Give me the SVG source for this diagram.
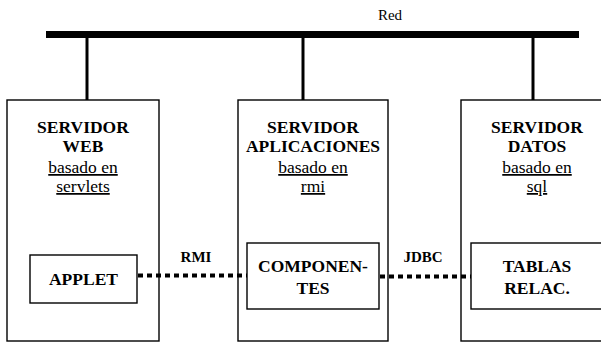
<svg xmlns="http://www.w3.org/2000/svg" width="601" height="343" viewBox="0 0 601 343">
<style>
  .box { fill: none; stroke: #000; stroke-width: 1.4; }
  .t { font-family: "Liberation Serif", serif; fill: #000; text-anchor: middle; }
  .h { font-size: 17.5px; font-weight: bold; }
  .u { font-size: 17.5px; text-decoration: underline; }
  .inner { font-size: 17.5px; font-weight: bold; }
  .lbl { font-size: 15px; font-weight: bold; }
  .drop { stroke: #000; stroke-width: 3; fill: none; }
  .dots { stroke: #000; stroke-width: 4; stroke-dasharray: 5 4; fill: none; }
</style>
<rect width="601" height="343" fill="#fff"/>

<g id="red">
  <rect x="46" y="31" width="533" height="7" fill="#000"/>
  <text class="t" x="390" y="20" font-size="15">Red</text>
</g>

<g id="servidor-web">
  <rect class="box" x="7" y="100" width="152" height="241"/>
  <text class="t h" x="83" y="132.5">SERVIDOR</text>
  <text class="t h" x="83" y="152">WEB</text>
  <text class="t u" x="83" y="173">basado en</text>
  <text class="t u" x="83" y="192">servlets</text>
</g>

<g id="applet">
  <rect class="box" x="30" y="255" width="107" height="48"/>
  <text class="t inner" x="83.5" y="285">APPLET</text>
</g>

<g id="servidor-aplicaciones">
  <rect class="box" x="238" y="100" width="150" height="241"/>
  <text class="t h" x="313" y="132.5">SERVIDOR</text>
  <text class="t h" x="313" y="152">APLICACIONES</text>
  <text class="t u" x="313" y="173">basado en</text>
  <text class="t u" x="313" y="192">rmi</text>
</g>

<g id="componentes">
  <rect class="box" x="247" y="243" width="132" height="66"/>
  <text class="t inner" x="313" y="272">COMPONEN-</text>
  <text class="t inner" x="313" y="293.5">TES</text>
</g>

<g id="servidor-datos">
  <rect class="box" x="461" y="100" width="152" height="241"/>
  <text class="t h" x="537" y="132.5">SERVIDOR</text>
  <text class="t h" x="537" y="152">DATOS</text>
  <text class="t u" x="537" y="173">basado en</text>
  <text class="t u" x="537" y="192">sql</text>
</g>

<g id="tablas">
  <rect class="box" x="471" y="243" width="142" height="66"/>
  <text class="t inner" x="537" y="272">TABLAS</text>
  <text class="t inner" x="537" y="294">RELAC.</text>
</g>

<g id="connectors">
  <line class="drop" x1="87" y1="38" x2="87" y2="100"/>
  <line class="drop" x1="303" y1="38" x2="303" y2="100"/>
  <line class="drop" x1="533" y1="38" x2="533" y2="100"/>
  <line class="dots" x1="138" y1="275.5" x2="247" y2="275.5"/>
  <text class="t lbl" x="196" y="262">RMI</text>
  <line class="dots" x1="380" y1="276.5" x2="471" y2="276.5"/>
  <text class="t lbl" x="423" y="262">JDBC</text>
</g>
</svg>
